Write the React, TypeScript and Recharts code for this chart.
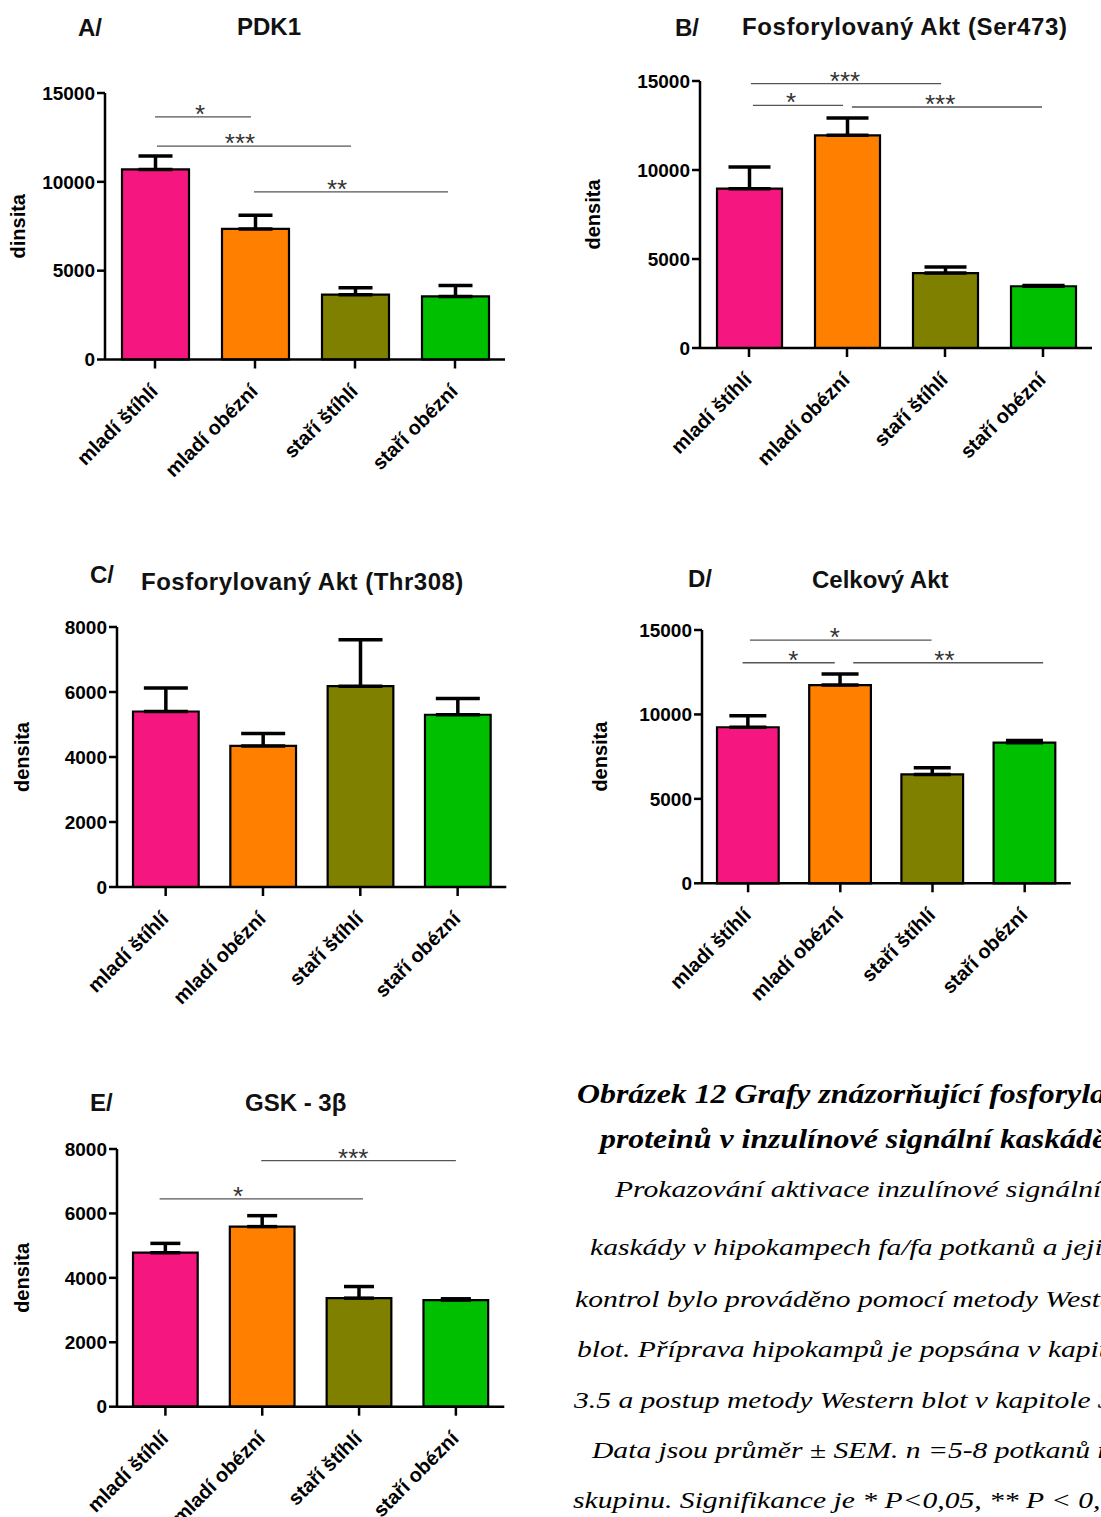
import React from 'react';
import { BarChart, Bar, XAxis, YAxis, Cell, ErrorBar, ReferenceLine, ReferenceDot } from 'recharts';

const categories = ['mladí štíhlí', 'mladí obézní', 'staří štíhlí', 'staří obézní'];
const barColors = ['#F5177F', '#FF8000', '#808000', '#00BF00'];

const pdk1Values = [10700, 7350, 3650, 3550];
const pdk1Sem = [750, 770, 390, 620];
const ser473Values = [8950, 11950, 4210, 3470];
const ser473Sem = [1220, 970, 340, 40];
const thr308Values = [5400, 4340, 6180, 5300];
const thr308Sem = [720, 380, 1430, 500];
const aktValues = [9240, 11740, 6450, 8330];
const aktSem = [680, 650, 400, 120];
const gskValues = [4780, 5590, 3370, 3310];
const gskSem = [290, 340, 360, 40];

const ticks15000 = [0, 5000, 10000, 15000];
const ticks8000 = [0, 2000, 4000, 6000, 8000];

type Sig = { from: number; to: number; y: number; text: string; tx: number };

const pdk1Sig: Sig[] = [
  { from: 0, to: 0.96, y: 13660, text: '*', tx: 0.45 },
  { from: 0.02, to: 1.96, y: 12010, text: '***', tx: 0.85 },
  { from: 0.99, to: 2.93, y: 9430, text: '**', tx: 1.82 },
];
const ser473Sig: Sig[] = [
  { from: 0.02, to: 1.96, y: 14850, text: '***', tx: 0.98 },
  { from: 0.04, to: 0.96, y: 13635, text: '*', tx: 0.43 },
  { from: 1.05, to: 2.99, y: 13540, text: '***', tx: 1.95 },
];
const thr308Sig: Sig[] = [];
const aktSig: Sig[] = [
  { from: 0.02, to: 1.99, y: 14400, text: '*', tx: 0.94 },
  { from: -0.06, to: 0.94, y: 13060, text: '*', tx: 0.49 },
  { from: 1.14, to: 3.2, y: 13060, text: '**', tx: 2.13 },
];
const gskSig: Sig[] = [
  { from: 0.99, to: 3.0, y: 7640, text: '***', tx: 1.94 },
  { from: -0.06, to: 2.04, y: 6450, text: '*', tx: 0.75 },
];

const captionBold = [
  'Obrázek 12 Grafy znázorňující fosforylaci',
  'proteinů v inzulínové signální kaskádě',
];
const captionText = [
  'Prokazování aktivace inzulínové signální',
  'kaskády v hipokampech fa/fa potkanů a jejich',
  'kontrol bylo prováděno pomocí metody Western',
  'blot. Příprava hipokampů je popsána v kapitole',
  '3.5 a postup metody Western blot v kapitole 3.6.',
  'Data jsou průměr ± SEM. n =5-8 potkanů na',
  'skupinu. Signifikance je * P<0,05, ** P < 0,01, *** P < 0,001.',
];

const SANS = 'Liberation Sans, Arial, Helvetica, sans-serif';
const SERIF = 'Liberation Serif, Times New Roman, serif';

interface PanelProps {
  x0: number; x1: number; yTop: number; yBot: number;
  yMax: number; yTicks: number[];
  values: number[]; sem: number[]; sig: Sig[];
  barSize: number; capWidth: number;
  yLabel: string; labelOffset: number;
}

function Panel(p: PanelProps) {
  const rows = p.values.map((v, i) => ({ i, value: v, err: [0, p.sem[i]] }));
  const plotW = p.x1 - p.x0;
  const plotH = p.yBot - p.yTop;
  const width = plotW + 140;
  const height = plotH + 190;
  return (
    <div style={{ position: 'absolute', left: p.x0 - 130, top: p.yTop - 50 }}>
      <BarChart width={width} height={height} data={rows} margin={{ top: 50, right: 10, left: 70, bottom: 30 }}>
        <XAxis
          type="number"
          dataKey="i"
          domain={[-0.5, 3.5]}
          ticks={[0, 1, 2, 3]}
          interval={0}
          tickFormatter={(v: number) => categories[v]}
          angle={-45}
          textAnchor="end"
          height={110}
          tickSize={9}
          tickMargin={14}
          tick={{ fontSize: 20, fontWeight: 'bold', fill: '#000', fontFamily: SANS, dx: -6 }}
          axisLine={{ stroke: '#000', strokeWidth: 2.5 }}
          tickLine={{ stroke: '#000', strokeWidth: 2.5 }}
        />
        <YAxis
          type="number"
          domain={[0, p.yMax]}
          ticks={p.yTicks}
          interval={0}
          width={60}
          tickSize={8}
          tick={{ fontSize: 19, fontWeight: 'bold', fill: '#000', fontFamily: SANS }}
          axisLine={{ stroke: '#000', strokeWidth: 2.5 }}
          tickLine={{ stroke: '#000', strokeWidth: 2.5 }}
          label={{
            value: p.yLabel,
            angle: -90,
            position: 'insideLeft',
            offset: p.labelOffset,
            style: { fontSize: 20, fontWeight: 'bold', fill: '#000', fontFamily: SANS, textAnchor: 'middle' },
          }}
        />
        <Bar dataKey="value" barSize={p.barSize} stroke="#000" strokeWidth={2.2} isAnimationActive={false}>
          {rows.map((r) => (
            <Cell key={r.i} fill={barColors[r.i]} />
          ))}
          <ErrorBar dataKey="err" width={p.capWidth} stroke="#000" strokeWidth={3.5} direction="y" isAnimationActive={false} />
        </Bar>
        {p.sig.map((s, k) => (
          <ReferenceLine
            key={'l' + k}
            segment={[{ x: s.from, y: s.y }, { x: s.to, y: s.y }]}
            stroke="#555"
            strokeWidth={1.3}
            ifOverflow="visible"
          />
        ))}
        {p.sig.map((s, k) => (
          <ReferenceDot
            key={'d' + k}
            x={s.tx}
            y={s.y}
            r={0}
            fill="none"
            stroke="none"
            ifOverflow="visible"
            label={{ value: s.text, position: 'top', offset: -6, fontSize: 26, fill: '#333', fontFamily: SANS }}
          />
        ))}
      </BarChart>
    </div>
  );
}

export default function App() {
  const titleStyle = { fontFamily: SANS, fontWeight: 'bold' as const, fontSize: 24, fill: '#111' };
  const boldLineY = [1103, 1148];
  const boldLineX = [577, 600];
  const textLineY = [1197, 1255, 1307, 1357, 1408, 1458, 1508];
  const textLineX = [615, 590, 575, 577, 574, 592, 573];
  return (
    <div style={{ position: 'absolute', left: 0, top: 0, width: 1101, height: 1517, overflow: 'hidden', background: '#fff' }}>
      <svg width={1101} height={1517} style={{ position: 'absolute', left: 0, top: 0 }}>
        <text x={78} y={36} {...titleStyle}>A/</text>
        <text x={237} y={35} {...titleStyle}>PDK1</text>
        <text x={675} y={36} {...titleStyle}>B/</text>
        <text x={742} y={35} {...titleStyle} letterSpacing={0.6}>Fosforylovaný Akt (Ser473)</text>
        <text x={90} y={583} {...titleStyle}>C/</text>
        <text x={141} y={590} {...titleStyle} letterSpacing={0.5}>Fosforylovaný Akt (Thr308)</text>
        <text x={688} y={587} {...titleStyle}>D/</text>
        <text x={812} y={588} {...titleStyle}>Celkový Akt</text>
        <text x={90} y={1111} {...titleStyle}>E/</text>
        <text x={245} y={1111} {...titleStyle}>GSK - 3β</text>
        {captionBold.map((t, i) => (
          <text
            key={'b' + i}
            transform={`translate(${boldLineX[i]} ${boldLineY[i]}) scale(1.18 1)`}
            fontFamily={SERIF}
            fontStyle="italic"
            fontWeight="bold"
            fontSize={27}
            fill="#000"
          >
            {t}
          </text>
        ))}
        {captionText.map((t, i) => (
          <text
            key={'t' + i}
            transform={`translate(${textLineX[i]} ${textLineY[i]}) scale(1.233 1)`}
            fontFamily={SERIF}
            fontStyle="italic"
            fontSize={24}
            fill="#000"
          >
            {t}
          </text>
        ))}
      </svg>
      <Panel x0={105} x1={505} yTop={93} yBot={359.5} yMax={15000} yTicks={ticks15000}
        values={pdk1Values} sem={pdk1Sem} sig={pdk1Sig} barSize={67} capWidth={17}
        yLabel="dinsita" labelOffset={-27} />
      <Panel x0={700} x1={1092} yTop={80.7} yBot={347.7} yMax={15000} yTicks={ticks15000}
        values={ser473Values} sem={ser473Sem} sig={ser473Sig} barSize={65} capWidth={21}
        yLabel="densita" labelOffset={-47.5} />
      <Panel x0={116.7} x1={506} yTop={626.7} yBot={886.7} yMax={8000} yTicks={ticks8000}
        values={thr308Values} sem={thr308Sem} sig={thr308Sig} barSize={65.7} capWidth={22}
        yLabel="densita" labelOffset={-35} />
      <Panel x0={701.7} x1={1070.5} yTop={630} yBot={883.3} yMax={15000} yTicks={ticks15000}
        values={aktValues} sem={aktSem} sig={aktSig} barSize={61.7} capWidth={18.5}
        yLabel="densita" labelOffset={-41.7} />
      <Panel x0={116.7} x1={504} yTop={1149} yBot={1406.7} yMax={8000} yTicks={ticks8000}
        values={gskValues} sem={gskSem} sig={gskSig} barSize={64.7} capWidth={15}
        yLabel="densita" labelOffset={-35} />
    </div>
  );
}
